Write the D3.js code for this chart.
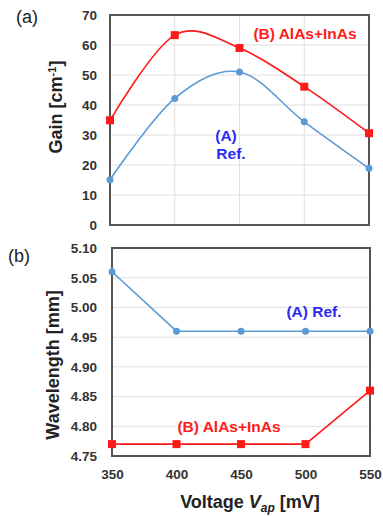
<!DOCTYPE html>
<html>
<head>
<meta charset="utf-8">
<script src="https://cdn.jsdelivr.net/npm/d3@7"></script>
<style>
body { margin: 0; background: #fff; }
text { font-family: "Liberation Sans", Arial, sans-serif; }
</style>
</head>
<body>
<script>
// data
var voltages = [350, 400, 450, 500, 550];
var gainRef = [15.1, 42.2, 51.0, 34.4, 18.9];
var gainAlAs = [34.9, 63.3, 59.0, 46.1, 30.6];
var waveRef = [5.06, 4.96, 4.96, 4.96, 4.96];
var waveAlAs = [4.77, 4.77, 4.77, 4.77, 4.86];
var gainTicks = [0, 10, 20, 30, 40, 50, 60, 70];
var waveTicks = [4.75, 4.80, 4.85, 4.90, 4.95, 5.00, 5.05, 5.10];

var width = 383, height = 516;
var red = "#ff1a1a", blue = "#5b9bd5", blueText = "#2b2bf0";

var svg = d3.select("body").append("svg")
    .attr("width", width)
    .attr("height", height);

// panel boxes
var pa = {left: 110, right: 369, top: 15, bottom: 225};
var pb = {left: 112, right: 370, top: 248, bottom: 456};

var xa = d3.scaleLinear().domain([350, 550]).range([pa.left, pa.right]);
var ya = d3.scaleLinear().domain([0, 70]).range([pa.bottom, pa.top]);
var xb = d3.scaleLinear().domain([350, 550]).range([pb.left, pb.right]);
var yb = d3.scaleLinear().domain([4.75, 5.10]).range([pb.bottom, pb.top]);

function styleAxis(g) {
    g.select(".domain").remove();
    g.selectAll("text")
        .style("font-size", "13.5px")
        .style("font-weight", "bold")
        .attr("fill", "#333");
}

// ---- panel (a) ----
var ga = svg.append("g");

ga.selectAll(".hgrid").data(gainTicks.slice(1, -1)).enter().append("line")
    .attr("x1", pa.left).attr("x2", pa.right)
    .attr("y1", d => ya(d)).attr("y2", d => ya(d))
    .attr("stroke", "#e0e0e0").attr("stroke-width", 1);

ga.selectAll(".vgrid").data(voltages.slice(1, -1)).enter().append("line")
    .attr("x1", d => xa(d)).attr("x2", d => xa(d))
    .attr("y1", pa.top).attr("y2", pa.bottom)
    .attr("stroke", "#e0e0e0").attr("stroke-width", 1);

ga.append("g")
    .attr("transform", `translate(${pa.left},0)`)
    .call(d3.axisLeft(ya).tickValues(gainTicks).tickSize(0).tickPadding(13).tickFormat(d3.format("d")))
    .call(styleAxis);

ga.append("rect")
    .attr("x", pa.left).attr("y", pa.top)
    .attr("width", pa.right - pa.left).attr("height", pa.bottom - pa.top)
    .attr("fill", "none").attr("stroke", "#555").attr("stroke-width", 2);

var smooth = d3.line()
    .x((d, i) => xa(voltages[i]))
    .y(d => ya(d))
    .curve(d3.curveCatmullRom.alpha(0));

ga.append("path").datum(gainRef)
    .attr("d", smooth).attr("fill", "none")
    .attr("stroke", blue).attr("stroke-width", 1.6);
ga.append("path").datum(gainAlAs)
    .attr("d", smooth).attr("fill", "none")
    .attr("stroke", red).attr("stroke-width", 1.6);

ga.selectAll(".dotA").data(gainRef).enter().append("circle")
    .attr("cx", (d, i) => xa(voltages[i])).attr("cy", d => ya(d))
    .attr("r", 3.5).attr("fill", blue);
ga.selectAll(".sqB").data(gainAlAs).enter().append("rect")
    .attr("x", (d, i) => xa(voltages[i]) - 4).attr("y", d => ya(d) - 4)
    .attr("width", 8).attr("height", 8).attr("fill", red);

ga.append("text").attr("x", 16).attr("y", 23)
    .style("font-size", "18px").attr("fill", "#222").text("(a)");

ga.append("text")
    .attr("transform", `translate(62,107) rotate(-90)`)
    .attr("text-anchor", "middle")
    .style("font-size", "18px").style("font-weight", "bold").attr("fill", "#222")
    .call(t => {
        t.append("tspan").text("Gain [cm");
        t.append("tspan").attr("dy", -6).style("font-size", "11px").text("-1");
        t.append("tspan").attr("dy", 6).text("]");
    });

ga.append("text").attr("x", 305).attr("y", 39).attr("text-anchor", "middle")
    .style("font-size", "15.5px").style("font-weight", "bold").attr("fill", red)
    .text("(B) AlAs+InAs");
ga.append("text").attr("x", 226).attr("y", 141).attr("text-anchor", "middle")
    .style("font-size", "15.5px").style("font-weight", "bold").attr("fill", blueText)
    .text("(A)");
ga.append("text").attr("x", 231).attr("y", 159).attr("text-anchor", "middle")
    .style("font-size", "15.5px").style("font-weight", "bold").attr("fill", blueText)
    .text("Ref.");

// ---- panel (b) ----
var gb = svg.append("g");

gb.selectAll(".hgrid").data(waveTicks.slice(1, -1)).enter().append("line")
    .attr("x1", pb.left).attr("x2", pb.right)
    .attr("y1", d => yb(d)).attr("y2", d => yb(d))
    .attr("stroke", "#e0e0e0").attr("stroke-width", 1);

gb.append("g")
    .attr("transform", `translate(${pb.left},0)`)
    .call(d3.axisLeft(yb).tickValues(waveTicks).tickSize(0).tickPadding(15).tickFormat(d3.format(".2f")))
    .call(styleAxis);

gb.append("g")
    .attr("transform", `translate(0,${pb.bottom})`)
    .call(d3.axisBottom(xb).tickValues(voltages).tickSize(0).tickPadding(13).tickFormat(d3.format("d")))
    .call(styleAxis);

gb.append("rect")
    .attr("x", pb.left).attr("y", pb.top)
    .attr("width", pb.right - pb.left).attr("height", pb.bottom - pb.top)
    .attr("fill", "none").attr("stroke", "#555").attr("stroke-width", 2);

var straight = d3.line()
    .x((d, i) => xb(voltages[i]))
    .y(d => yb(d));

gb.append("path").datum(waveRef)
    .attr("d", straight).attr("fill", "none")
    .attr("stroke", blue).attr("stroke-width", 1.6);
gb.append("path").datum(waveAlAs)
    .attr("d", straight).attr("fill", "none")
    .attr("stroke", red).attr("stroke-width", 1.6);

gb.selectAll(".dotA").data(waveRef).enter().append("circle")
    .attr("cx", (d, i) => xb(voltages[i])).attr("cy", d => yb(d))
    .attr("r", 3.5).attr("fill", blue);
gb.selectAll(".sqB").data(waveAlAs).enter().append("rect")
    .attr("x", (d, i) => xb(voltages[i]) - 4).attr("y", d => yb(d) - 4)
    .attr("width", 8).attr("height", 8).attr("fill", red);

gb.append("text").attr("x", 8).attr("y", 262)
    .style("font-size", "18px").attr("fill", "#222").text("(b)");

gb.append("text")
    .attr("transform", `translate(59,365) rotate(-90)`)
    .attr("text-anchor", "middle")
    .style("font-size", "18px").style("font-weight", "bold").attr("fill", "#222")
    .text("Wavelength [mm]");

gb.append("text").attr("x", 314).attr("y", 317).attr("text-anchor", "middle")
    .style("font-size", "15.5px").style("font-weight", "bold").attr("fill", blueText)
    .text("(A) Ref.");
gb.append("text").attr("x", 229).attr("y", 432).attr("text-anchor", "middle")
    .style("font-size", "15.5px").style("font-weight", "bold").attr("fill", red)
    .text("(B) AlAs+InAs");

svg.append("text")
    .attr("x", 250).attr("y", 508).attr("text-anchor", "middle")
    .style("font-size", "18px").style("font-weight", "bold").attr("fill", "#222")
    .call(t => {
        t.append("tspan").text("Voltage ");
        t.append("tspan").style("font-style", "italic").text("V");
        t.append("tspan").attr("dy", 4).style("font-size", "12px").style("font-style", "italic").text("ap");
        t.append("tspan").attr("dy", -4).text(" [mV]");
    });
</script>
</body>
</html>
